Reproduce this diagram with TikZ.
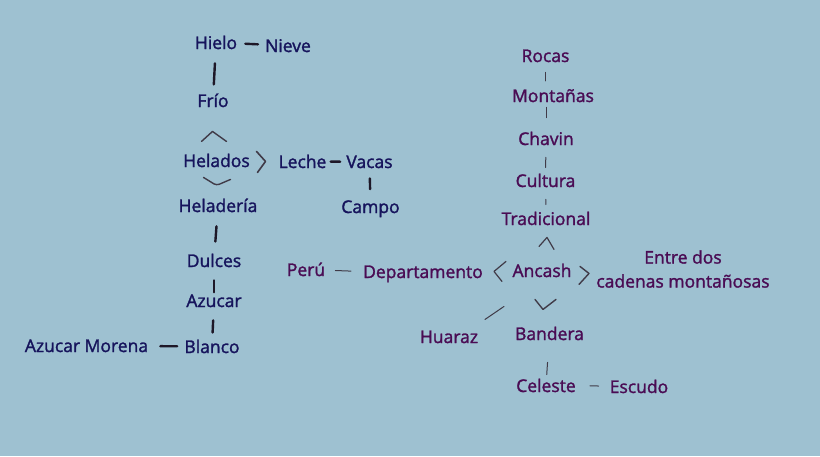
\documentclass[tikz,border=0pt]{standalone}
\usepackage{fontspec}
\setmainfont{Open Sans}[FakeBold=1.6]
\usepackage{xcolor}
\usepackage{tikz}
\usetikzlibrary{calc}
\definecolor{fondo}{RGB}{158,193,209}
\definecolor{azul}{RGB}{22,20,92}
\definecolor{morado}{RGB}{74,12,84}
\definecolor{trazo}{RGB}{30,24,40}
\tikzset{
  palabra/.style={font=\fontsize{17.5}{24}\selectfont,anchor=base,inner sep=0pt},
  izq/.style={palabra,text=azul},
  der/.style={palabra,text=morado},
  grueso/.style={draw=trazo,line width=2.4pt,line cap=round},
  fino/.style={draw=trazo!85,line width=1pt,line cap=round,line join=round},
}

\begin{document}
\begin{tikzpicture}[x=1pt,y=-1pt]
  \fill[fondo] (0,0) rectangle (820,456);
  \useasboundingbox (0,0) rectangle (820,456);
  % lado izquierdo
  \node[izq] (hielo) at (216,49) {Hielo};
  \node[izq] (nieve) at (288,52) {Nieve};
  \node[izq] (frio) at (213,107) {Frío};
  \node[izq] (helados) at (216.5,167) {Helados};
  \node[izq] (leche) at (302.5,168) {Leche};
  \node[izq] (vacas) at (369.5,168) {Vacas};
  \node[izq] (campo) at (370.5,213) {Campo};
  \node[izq] (heladeria) at (218,212) {Heladería};
  \node[izq] (dulces) at (214,267) {Dulces};
  \node[izq] (azucar) at (214,307) {Azucar};
  \node[izq] (blanco) at (212,353) {Blanco};
  \node[izq] (morena) at (86.5,352) {Azucar Morena};
  \draw[grueso,shorten <=8pt,shorten >=7pt] (hielo) -- (nieve);
  \draw[grueso,shorten <=14pt,shorten >=9pt] (hielo) -- (frio);
  \draw[grueso,shorten <=4pt,shorten >=6pt] (leche) -- (vacas);
  \draw[grueso,shorten <=10pt,shorten >=11pt] (vacas) -- (campo);
  \draw[grueso,shorten <=14pt,shorten >=12pt] (heladeria) -- (dulces);
  \draw[grueso,shorten <=13pt,shorten >=2pt] (dulces) -- (azucar);
  \draw[grueso,shorten <=13pt,shorten >=7pt] (azucar) -- (blanco);
  \draw[grueso,shorten <=12pt,shorten >=7pt] (morena) -- (blanco);
  \draw[fino,line width=1.4pt] ($(helados)+(-15,-19)$) -- ($(helados)+(-4,-29)$) -- ($(helados)+(10,-19)$);
  \draw[fino,line width=1.4pt,rounded corners=3pt] ($(helados)+(-13,17)$) -- ($(helados)+(0,25)$) -- ($(helados)+(14,19)$);
  \draw[fino,line width=1.6pt] ($(leche)+(-46,-10)$) -- ($(leche)+(-37,0)$) -- ($(leche)+(-45,11)$);
  % lado derecho
  \node[der] (rocas) at (545.5,62) {Rocas};
  \node[der] (montanas) at (553,102) {Montañas};
  \node[der] (chavin) at (546,145) {Chavin};
  \node[der] (cultura) at (545.5,187) {Cultura};
  \node[der] (tradicional) at (546,225) {Tradicional};
  \node[der] (ancash) at (542,277) {Ancash};
  \node[der] (departamento) at (423,278) {Departamento};
  \node[der] (peru) at (306,276) {Perú};
  \node[der,anchor=center,align=center] (entre) at (683,269) {Entre dos\\cadenas montañosas};
  \node[der] (huaraz) at (449,343) {Huaraz};
  \node[der] (bandera) at (549.5,340) {Bandera};
  \node[der] (celeste) at (546,392) {Celeste};
  \node[der] (escudo) at (639,393) {Escudo};
  \draw[fino,shorten <=10pt,shorten >=8pt] (rocas.south) -- (rocas.south |- montanas.north);
  \draw[fino,shorten <=5pt,shorten >=14pt] (chavin.north |- montanas.south) -- (chavin.north);
  \draw[fino,shorten <=12pt,shorten >=6pt] (chavin) -- (cultura);
  \draw[fino,shorten <=12pt,shorten >=7pt] (cultura) -- (tradicional);
  \draw[fino,shorten <=10pt,shorten >=12pt] (peru) -- (departamento);
  \draw[fino,shorten <=22pt,shorten >=4pt] (bandera) -- (celeste);
  \draw[fino,shorten <=14pt,shorten >=11pt] (celeste) -- (escudo);
  \draw[fino] ($(ancash)+(-38,36)$) -- ($(ancash)+(-57,49)$);
  \draw[fino,line width=1.2pt] ($(ancash)+(-3,-24)$) -- ($(ancash)+(5,-33)$) -- ($(ancash)+(12,-21)$);
  \draw[fino,line width=1.2pt] ($(ancash)+(-36,-9)$) -- ($(ancash)+(-48,1)$) -- ($(ancash)+(-40,11)$);
  \draw[fino,line width=1.4pt] ($(ancash)+(38,-4)$) -- ($(ancash)+(47,3)$) -- ($(ancash)+(37,14)$);
  \draw[fino,line width=1.4pt] ($(ancash)+(-7,29)$) -- ($(ancash)+(1,39)$) -- ($(ancash)+(14,29)$);
\end{tikzpicture}
\end{document}
